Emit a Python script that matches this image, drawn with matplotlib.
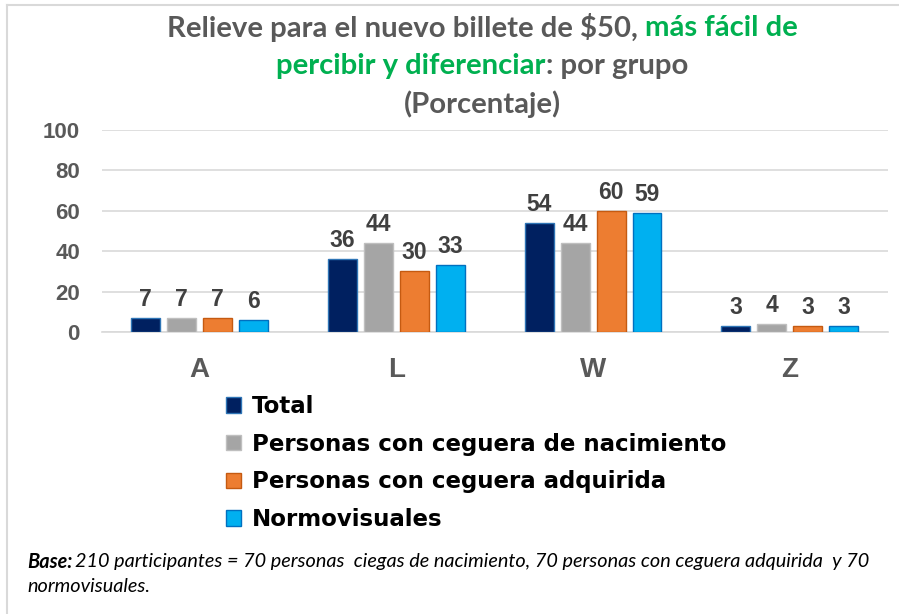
import matplotlib
matplotlib.use("Agg")
import matplotlib.pyplot as plt
from matplotlib.lines import Line2D
import numpy as np

# ---- data -----------------------------------------------------------------
categories = ["A", "L", "W", "Z"]
series_names = [
    "Total",
    "Personas con ceguera de nacimiento",
    "Personas con ceguera adquirida",
    "Normovisuales",
]
total = [7, 36, 54, 3]
nacimiento = [7, 44, 44, 4]
adquirida = [7, 30, 60, 3]
normovisuales = [6, 33, 59, 3]
yticks = [0, 20, 40, 60, 80, 100]

series = [total, nacimiento, adquirida, normovisuales]
FACE = ["#002060", "#A5A5A5", "#ED7D31", "#00B0F0"]
EDGE = ["#2E75B6", "#BFBFBF", "#C55A11", "#0070C0"]
GRAY = "#595959"
GREEN = "#00B050"

W, H = 899, 614
fig = plt.figure(figsize=(W / 100, H / 100), dpi=100)
ax = fig.add_axes([101.5 / W, 1 - 332 / H, (888 - 101.5) / W, 202 / H])

x = np.arange(len(categories))
pitch, width = 0.183, 0.147
bars = []
for i, (vals, name) in enumerate(zip(series, series_names)):
    pos = x + (i - 1.5) * pitch
    b = ax.bar(pos, vals, width=width, color=FACE[i], edgecolor=EDGE[i],
               linewidth=1.0, label=name, zorder=3)
    bars.append(b)
    for p, v in zip(pos, vals):
        ax.annotate(f"{v}", (p, v), xytext=(0, 5), textcoords="offset points",
                    ha="center", va="bottom", fontsize=16.5, fontweight="bold",
                    color="#404040", family="Liberation Sans")

ax.set_xlim(-0.5, len(categories) - 0.5)
ax.set_ylim(0, 100)
ax.set_yticks(yticks)
ax.grid(axis="y", color="#D9D9D9", linewidth=1.2, zorder=0)
ax.set_axisbelow(True)
for s in ["top", "right", "left"]:
    ax.spines[s].set_visible(False)
ax.spines["bottom"].set_color("#D9D9D9")
ax.spines["bottom"].set_linewidth(1.2)
ax.tick_params(axis="both", length=0)
ax.tick_params(axis="y", pad=15.5)
ax.tick_params(axis="x", pad=18)
ax.set_xticks(x)
ax.set_xticklabels(categories)
for t in ax.get_yticklabels():
    t.set_fontsize(16); t.set_fontweight("bold"); t.set_color(GRAY)
    t.set_family("Liberation Sans")
for t in ax.get_xticklabels():
    t.set_fontsize(20); t.set_fontweight("bold"); t.set_color(GRAY)
    t.set_family("Liberation Sans")

# ---- legend ---------------------------------------------------------------
leg = fig.legend(handles=bars, labels=series_names, loc="upper left",
                 bbox_to_anchor=(226 / W, 1 - 395 / H), frameon=False,
                 prop={"family": "DejaVu Sans", "weight": "bold", "size": 16.5},
                 handlelength=0.65, handleheight=0.65, handletextpad=0.5,
                 labelspacing=0.64, borderpad=0, borderaxespad=0)

# ---- multi-coloured title -------------------------------------------------
renderer = fig.canvas.get_renderer()
title_lines = [
    [("Relieve para el nuevo billete de $50, ", GRAY), ("más fácil de", GREEN)],
    [("percibir y diferenciar", GREEN), (": por grupo", GRAY)],
    [("(Porcentaje)", GRAY)],
]
title_y = [28, 66, 104]
cx = 482
# size the title so its first line spans the same width as the reference
probe = fig.text(0, 0, "".join(s for s, _ in title_lines[0]), fontsize=17,
                 fontweight="bold", family="Lato")
tsize = 17 * 630 / probe.get_window_extent(renderer).width
probe.remove()
for parts, yy in zip(title_lines, title_y):
    texts = [fig.text(0, 1 - yy / H, s, color=c, fontsize=tsize, fontweight="bold",
                      family="Lato", ha="left", va="center")
             for s, c in parts]
    widths = [t.get_window_extent(renderer).width for t in texts]
    x0 = cx - sum(widths) / 2
    for t, w in zip(texts, widths):
        t.set_x(x0 / W)
        x0 += w

# ---- footnote -------------------------------------------------------------
fsize = 14.3
t1 = fig.text(27 / W, 1 - 562 / H, "Base:", fontsize=fsize, fontweight="bold",
              style="italic", family="Lato", va="center", ha="left")
w1 = t1.get_window_extent(renderer).width
fig.text((27 + w1 + 3) / W, 1 - 562 / H,
         "210 participantes = 70 personas  ciegas de nacimiento, 70 personas con "
         "ceguera adquirida  y 70", fontsize=fsize, style="italic", family="Lato",
         va="center", ha="left")
fig.text(27 / W, 1 - 587 / H, "normovisuales.", fontsize=fsize, style="italic",
         family="Lato", va="center", ha="left")

# ---- thin frame lines (top and left) --------------------------------------
fig.add_artist(Line2D([6.5 / W, 1], [1 - 4.5 / H, 1 - 4.5 / H],
                      color="#D9D9D9", linewidth=1.5))
fig.add_artist(Line2D([6.5 / W, 6.5 / W], [0, 1 - 4.5 / H],
                      color="#D9D9D9", linewidth=1.5))

fig.savefig("out.png", dpi=100)
